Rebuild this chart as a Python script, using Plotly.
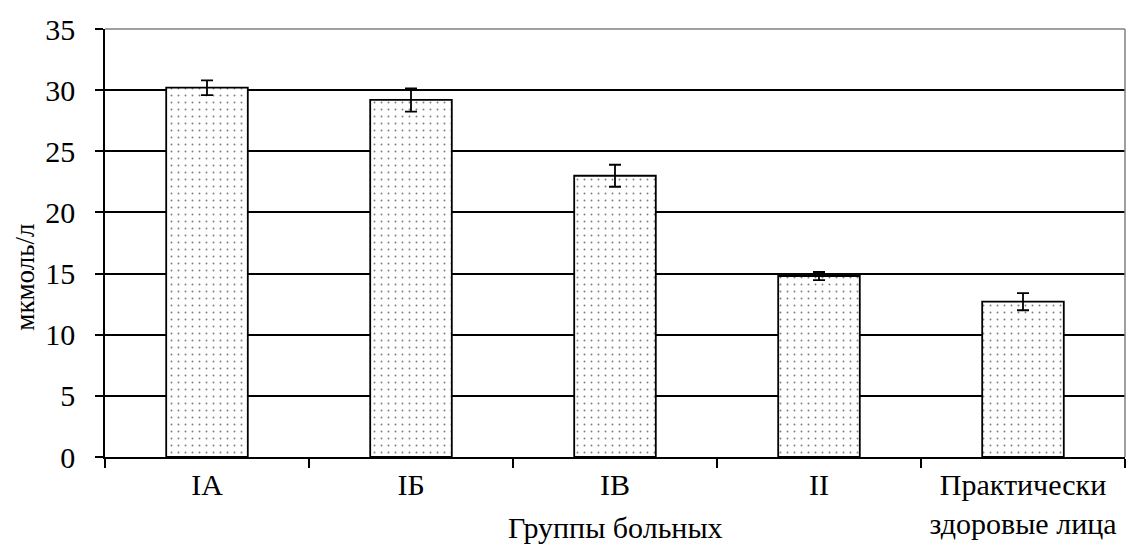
import plotly.graph_objects as go

categories = ["IА", "IБ", "IВ", "II", "Практически<br>здоровые лица"]
values = [30.2, 29.2, 23.0, 14.8, 12.7]
errors = [0.6, 0.95, 0.9, 0.33, 0.7]
y_ticks = [0, 5, 10, 15, 20, 25, 30, 35]

FONT = "Liberation Serif"

fig = go.Figure()
fig.add_trace(go.Bar(
    x=categories,
    y=values,
    marker=dict(
        color="white",
        line=dict(color="black", width=1.8),
        pattern=dict(shape=".", fgcolor="black", bgcolor="white", size=7, solidity=0.06),
    ),
    error_y=dict(type="data", array=errors, visible=True, color="black", thickness=1.8, width=6),
))

fig.update_layout(
    width=1140,
    height=552,
    margin=dict(l=105, r=15, t=20, b=90),
    paper_bgcolor="white",
    plot_bgcolor="white",
    bargap=0.6,
    showlegend=False,
    font=dict(family=FONT, size=30, color="black"),
    xaxis=dict(
        type="category",
        tickson="boundaries",
        ticks="outside",
        ticklen=9,
        tickwidth=1.5,
        tickcolor="black",
        showline=True,
        linecolor="black",
        linewidth=1.5,
        showgrid=False,
        tickfont=dict(family=FONT, size=30, color="black"),
    ),
    yaxis=dict(
        range=[0, 35],
        tickvals=y_ticks,
        ticks="outside",
        ticklen=8,
        tickwidth=1.5,
        tickcolor="black",
        showline=True,
        linecolor="black",
        linewidth=1.5,
        showgrid=True,
        gridcolor="black",
        gridwidth=1.5,
        zeroline=False,
        tickfont=dict(family=FONT, size=30, color="black"),
        ticklabelstandoff=14,
    ),
    shapes=[
        dict(type="line", xref="paper", yref="paper", x0=0, x1=1, y0=1, y1=1,
             line=dict(color="#808080", width=1.5), layer="above"),
        dict(type="line", xref="paper", yref="paper", x0=1, x1=1, y0=0, y1=1,
             line=dict(color="#808080", width=1.5), layer="above"),
    ],
    annotations=[
        dict(text="мкмоль/л", xref="paper", yref="paper", x=-0.078, y=0.42,
             textangle=-90, showarrow=False, xanchor="center", yanchor="middle",
             font=dict(family=FONT, size=27, color="black")),
        dict(text="Группы больных", xref="paper", yref="paper", x=0.5, y=-0.165,
             showarrow=False, xanchor="center", yanchor="middle",
             font=dict(family=FONT, size=30, color="black")),
    ],
)

fig.write_html("out.html", config={"displayModeBar": False},
               post_script="document.body.style.margin='0';")
